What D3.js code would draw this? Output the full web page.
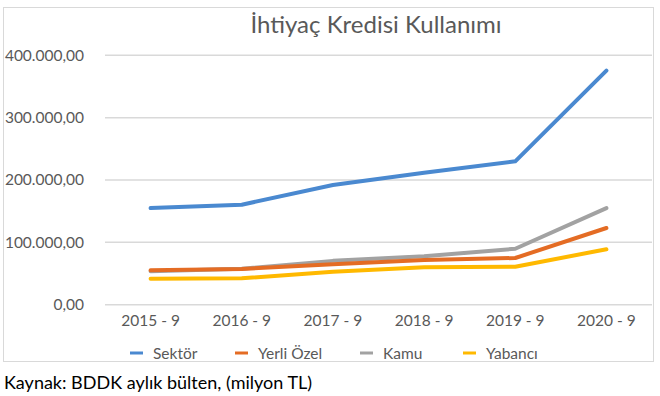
<!DOCTYPE html>
<html><head><meta charset="utf-8">
<script src="https://cdn.jsdelivr.net/npm/d3@7"></script>
<style>
html,body{margin:0;padding:0;background:#fff;}
svg{display:block;font-family:Lato,"Open Sans",sans-serif;}
</style></head>
<body><svg id="chart" width="660" height="396"></svg>
<script>
const categories = ["2015 - 9","2016 - 9","2017 - 9","2018 - 9","2019 - 9","2020 - 9"];
const sektor     = [155000,160400,192000,211500,230000,375500];
const yerliOzel  = [55200,57300,65000,71700,74900,123000];
const kamu       = [53800,57500,70300,77600,89800,155000];
const yabanci    = [41700,42300,53000,60000,60900,88900];
const seriesNames = ["Sektör","Yerli Özel","Kamu","Yabancı"];
const seriesColors = ["#4a89d0","#e46c24","#a2a2a2","#ffb900"];
const yTicks = [0,100000,200000,300000,400000];
const titleText = "İhtiyaç Kredisi Kullanımı";
const footerText = "Kaynak: BDDK aylık bülten, (milyon TL)";

const series = [sektor, yerliOzel, kamu, yabanci];
const svg = d3.select("#chart");
const fmt = d3.formatLocale({decimal:",",thousands:".",grouping:[3],currency:["","TL"]}).format(",.2f");

const x = d3.scaleBand().domain(categories).range([105,652]).padding(0);
const y = d3.scaleLinear().domain([0,400000]).range([304.7,55.3]);
const cx = d => x(d) + x.bandwidth()/2;

// outer border
svg.append("rect").attr("x",3.5).attr("y",7.5).attr("width",650).attr("height",354)
  .attr("fill","#fff").attr("stroke","#d9d9d9").attr("stroke-width",1);

// title
svg.append("text").attr("x",376).attr("y",33).attr("text-anchor","middle")
  .attr("font-size",24).attr("fill","#595959").text(titleText);

// gridlines
svg.append("g").selectAll("line").data(yTicks).join("line")
  .attr("x1",105).attr("x2",652).attr("y1",d=>y(d)).attr("y2",d=>y(d))
  .attr("stroke","#d9d9d9").attr("stroke-width",1.5);

// y axis
const ya = svg.append("g").attr("transform","translate(105,0)")
  .call(d3.axisLeft(y).tickValues(yTicks).tickFormat(fmt).tickSize(0).tickPadding(21));
ya.select(".domain").remove();
ya.selectAll("text").attr("font-size",15.5).attr("fill","#595959").attr("font-family","Lato,'Open Sans',sans-serif");

// x axis
const xa = svg.append("g").attr("transform","translate(0,304.7)")
  .call(d3.axisBottom(x).tickSize(0).tickPadding(10));
xa.select(".domain").remove();
xa.selectAll("text").attr("font-size",15.5).attr("fill","#595959").attr("font-family","Lato,'Open Sans',sans-serif");

// lines
const line = d3.line().x((d,i)=>cx(categories[i])).y(d=>y(d));
svg.append("g").selectAll("path").data(series.slice().reverse()).join("path")
  .attr("d",d=>line(d)).attr("fill","none")
  .attr("stroke",(d,i)=>seriesColors[series.length-1-i])
  .attr("stroke-width",4).attr("stroke-linecap","round").attr("stroke-linejoin","round");

// legend
const legX = [130,235,360,463];
const leg = svg.append("g").selectAll("g").data(seriesNames).join("g")
  .attr("transform",(d,i)=>`translate(${legX[i]},353)`);
leg.append("line").attr("x1",0).attr("x2",13).attr("y1",0).attr("y2",0)
  .attr("stroke",(d,i)=>seriesColors[i]).attr("stroke-width",3);
leg.append("text").attr("x",23).attr("y",5.5).attr("font-size",15.5).attr("fill","#595959").text(d=>d);

// footer
svg.append("text").attr("x",4).attr("y",389).attr("font-size",18).attr("fill","#000").text(footerText);
</script></body></html>
